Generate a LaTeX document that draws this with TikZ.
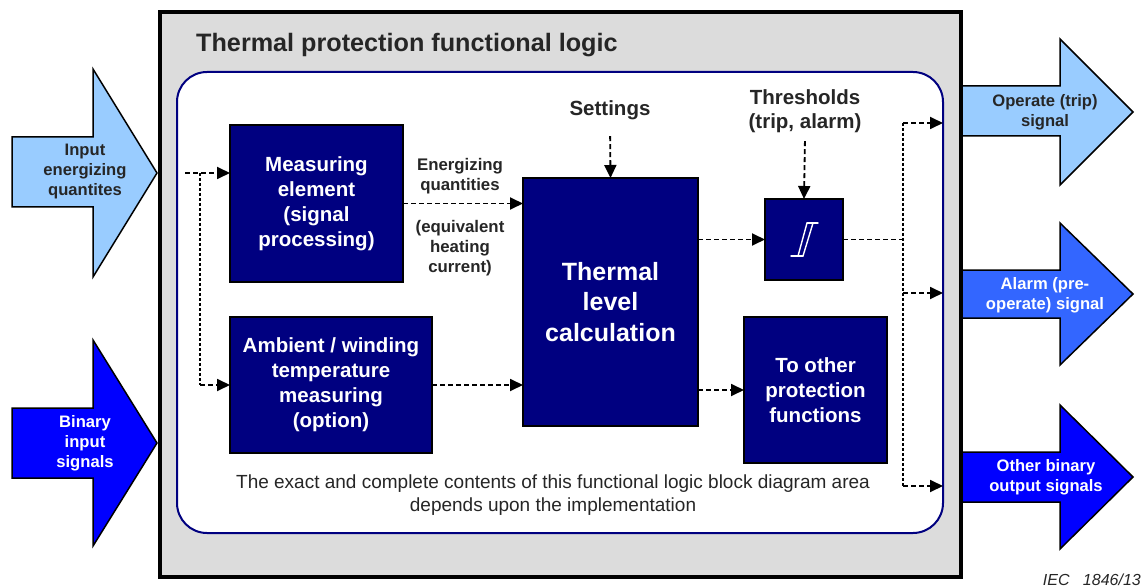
\documentclass[tikz,border=0pt]{standalone}
\usepackage{fontspec}
\setmainfont{Liberation Sans}
\usetikzlibrary{arrows.meta}

\definecolor{navy}{HTML}{000080}
\definecolor{panelgray}{HTML}{DCDCDC}
\definecolor{lightblue}{HTML}{99CCFF}
\definecolor{midblue}{HTML}{3366FF}
\definecolor{pureblue}{HTML}{0000FF}
\definecolor{ink}{HTML}{262626}

\tikzset{
  block/.style={draw=black, line width=2pt, fill=navy, text=white, align=center,
    font=\bfseries\fontsize{20.5}{25}\selectfont, inner sep=0pt, outer sep=0pt},
  flow/.style={line width=1.8pt, dash pattern=on 5pt off 3pt,
    -{Triangle[length=13pt,width=12pt]}},
  vflow/.style={line width=1.8pt, dash pattern=on 3pt off 2pt},
  tag/.style={text=ink, align=center, font=\bfseries\fontsize{16.8}{20}\selectfont},
  head/.style={text=ink, align=center, font=\bfseries\fontsize{20.5}{24}\selectfont},
  bigarrow/.style={draw=black, line width=1.5pt, line join=miter},
  arrowtext/.style={align=center, font=\bfseries\fontsize{16.6}{20}\selectfont},
}

\begin{document}
\begin{tikzpicture}[x=1pt, y=-1pt]
\useasboundingbox (0,0) rectangle (1143,588);

% incoming signal arrows
\draw[bigarrow, fill=lightblue] (12,137) -- (93,137) -- (93,69) -- (157,173)
  -- (93,277) -- (93,207) -- (12,207) -- cycle;
\node[arrowtext, text=ink] (inq) at (85,172) {Input\\energizing\\quantites};
\draw[bigarrow, fill=pureblue] (12,408) -- (93,408) -- (93,340) -- (157,443)
  -- (93,546) -- (93,478) -- (12,478) -- cycle;
\node[arrowtext, text=white] (inb) at (85,443) {Binary\\input\\signals};

% outgoing signal arrows
\draw[bigarrow, fill=lightblue] (962,86) -- (1060,86) -- (1060,39) -- (1133,112)
  -- (1060,185) -- (1060,136) -- (962,136) -- cycle;
\node[arrowtext, text=ink] (otrip) at (1045,112) {Operate (trip)\\signal};
\draw[bigarrow, fill=midblue] (962,270) -- (1060,270) -- (1060,223) -- (1133,294)
  -- (1060,365) -- (1060,318) -- (962,318) -- cycle;
\node[arrowtext, text=white] (oalarm) at (1045,295) {Alarm (pre-\\operate) signal};
\draw[bigarrow, fill=pureblue] (962,452) -- (1060,452) -- (1060,405) -- (1133,477)
  -- (1060,549) -- (1060,502) -- (962,502) -- cycle;
\node[arrowtext, text=white] (obin) at (1046,477) {Other binary\\output signals};

% functional logic panel
\node[draw=black, line width=4pt, fill=panelgray, minimum width=801pt,
  minimum height=565pt, inner sep=0pt] (outer) at (560.5,294.5) {};
\node[anchor=west, text=ink, inner sep=0pt,
  font=\bfseries\fontsize{25.2}{28}\selectfont] (title) at (196,45)
  {Thermal protection functional logic};
\node[draw=navy, line width=2pt, fill=white, rounded corners=30pt,
  minimum width=766pt, minimum height=461pt, inner sep=0pt, outer sep=0pt]
  (inner) at (560,302.5) {};

% processing blocks
\node[block, minimum width=173pt, minimum height=157pt] (meas) at (316.5,203.5)
  {Measuring\\element\\(signal\\processing)};
\node[block, minimum width=202pt, minimum height=136pt] (amb) at (331,385)
  {Ambient / winding\\temperature\\measuring\\(option)};
\node[block, minimum width=175pt, minimum height=248pt,
  font=\bfseries\fontsize{25}{30.5}\selectfont] (therm) at (610.5,302)
  {Thermal\\level\\calculation};
\node[block, minimum width=78pt, minimum height=81pt] (thr) at (804,239.5) {};
\node[block, minimum width=143pt, minimum height=146pt] (other) at (815.5,390)
  {To other\\protection\\functions};

% hysteresis symbol of the threshold block
\begin{scope}[shift={(thr.center)}, white, line width=1.4pt, line cap=round]
  \draw (-13,16.5) -- (-1,16.5);
  \draw (-6,16.5) -- (3,-16.5);
  \draw (-1,16.5) -- (9,-16.5);
  \draw (3,-16.5) -- (14,-16.5);
\end{scope}

% labels
\node[head] (settings) at (610,110) {Settings};
\node[head] (thresholds) at (805,111) {Thresholds\\(trip, alarm)};
\node[tag] (enq) at (460,176) {Energizing\\quantities};
\node[tag] (eqh) at (460,248) {(equivalent\\heating\\current)};
\node[text=ink, align=center, font=\fontsize{19}{23}\selectfont]
  (note) at (553,495)
  {The exact and complete contents of this functional logic block diagram area\\
   depends upon the implementation};
\node[text=ink, anchor=east, inner sep=0pt,
  font=\itshape\fontsize{16}{18}\selectfont] (iec) at (1141,580) {IEC\ \ \ 1846/13};

% input distribution
\coordinate (inStart) at (185,173);
\coordinate (split) at (200,173);
\draw[flow] (inStart) -- (meas.west |- inStart);
\draw[vflow] (split) -- (split |- amb.west);
\draw[flow] (split |- amb.west) -- (amb.west);

% into the thermal calculation
\draw[flow] (meas.east) -- (therm.west |- meas.east);
\draw[flow] (amb.east) -- (therm.west |- amb.east);
\draw[flow, shorten <=13pt] (settings.south) -- (therm.north);
\draw[flow, shorten <=5pt] (thresholds.south) -- (thr.north);

% out of the thermal calculation
\draw[flow] (therm.east |- thr.west) -- (thr.west);
\draw[flow] (therm.east |- other.west) -- (other.west);

% output distribution
\coordinate (bus) at (903,239.5);
\coordinate (busTop) at (903,123);
\coordinate (busMid) at (903,293);
\coordinate (busBot) at (903,486);
\draw[line width=1.8pt, dash pattern=on 5pt off 3pt] (thr.east) -- (bus);
\draw[vflow] (busTop) -- (busBot);
\draw[flow] (busTop) -- (inner.east |- busTop);
\draw[flow] (busMid) -- (inner.east |- busMid);
\draw[flow] (busBot) -- (inner.east |- busBot);
\end{tikzpicture}
\end{document}
